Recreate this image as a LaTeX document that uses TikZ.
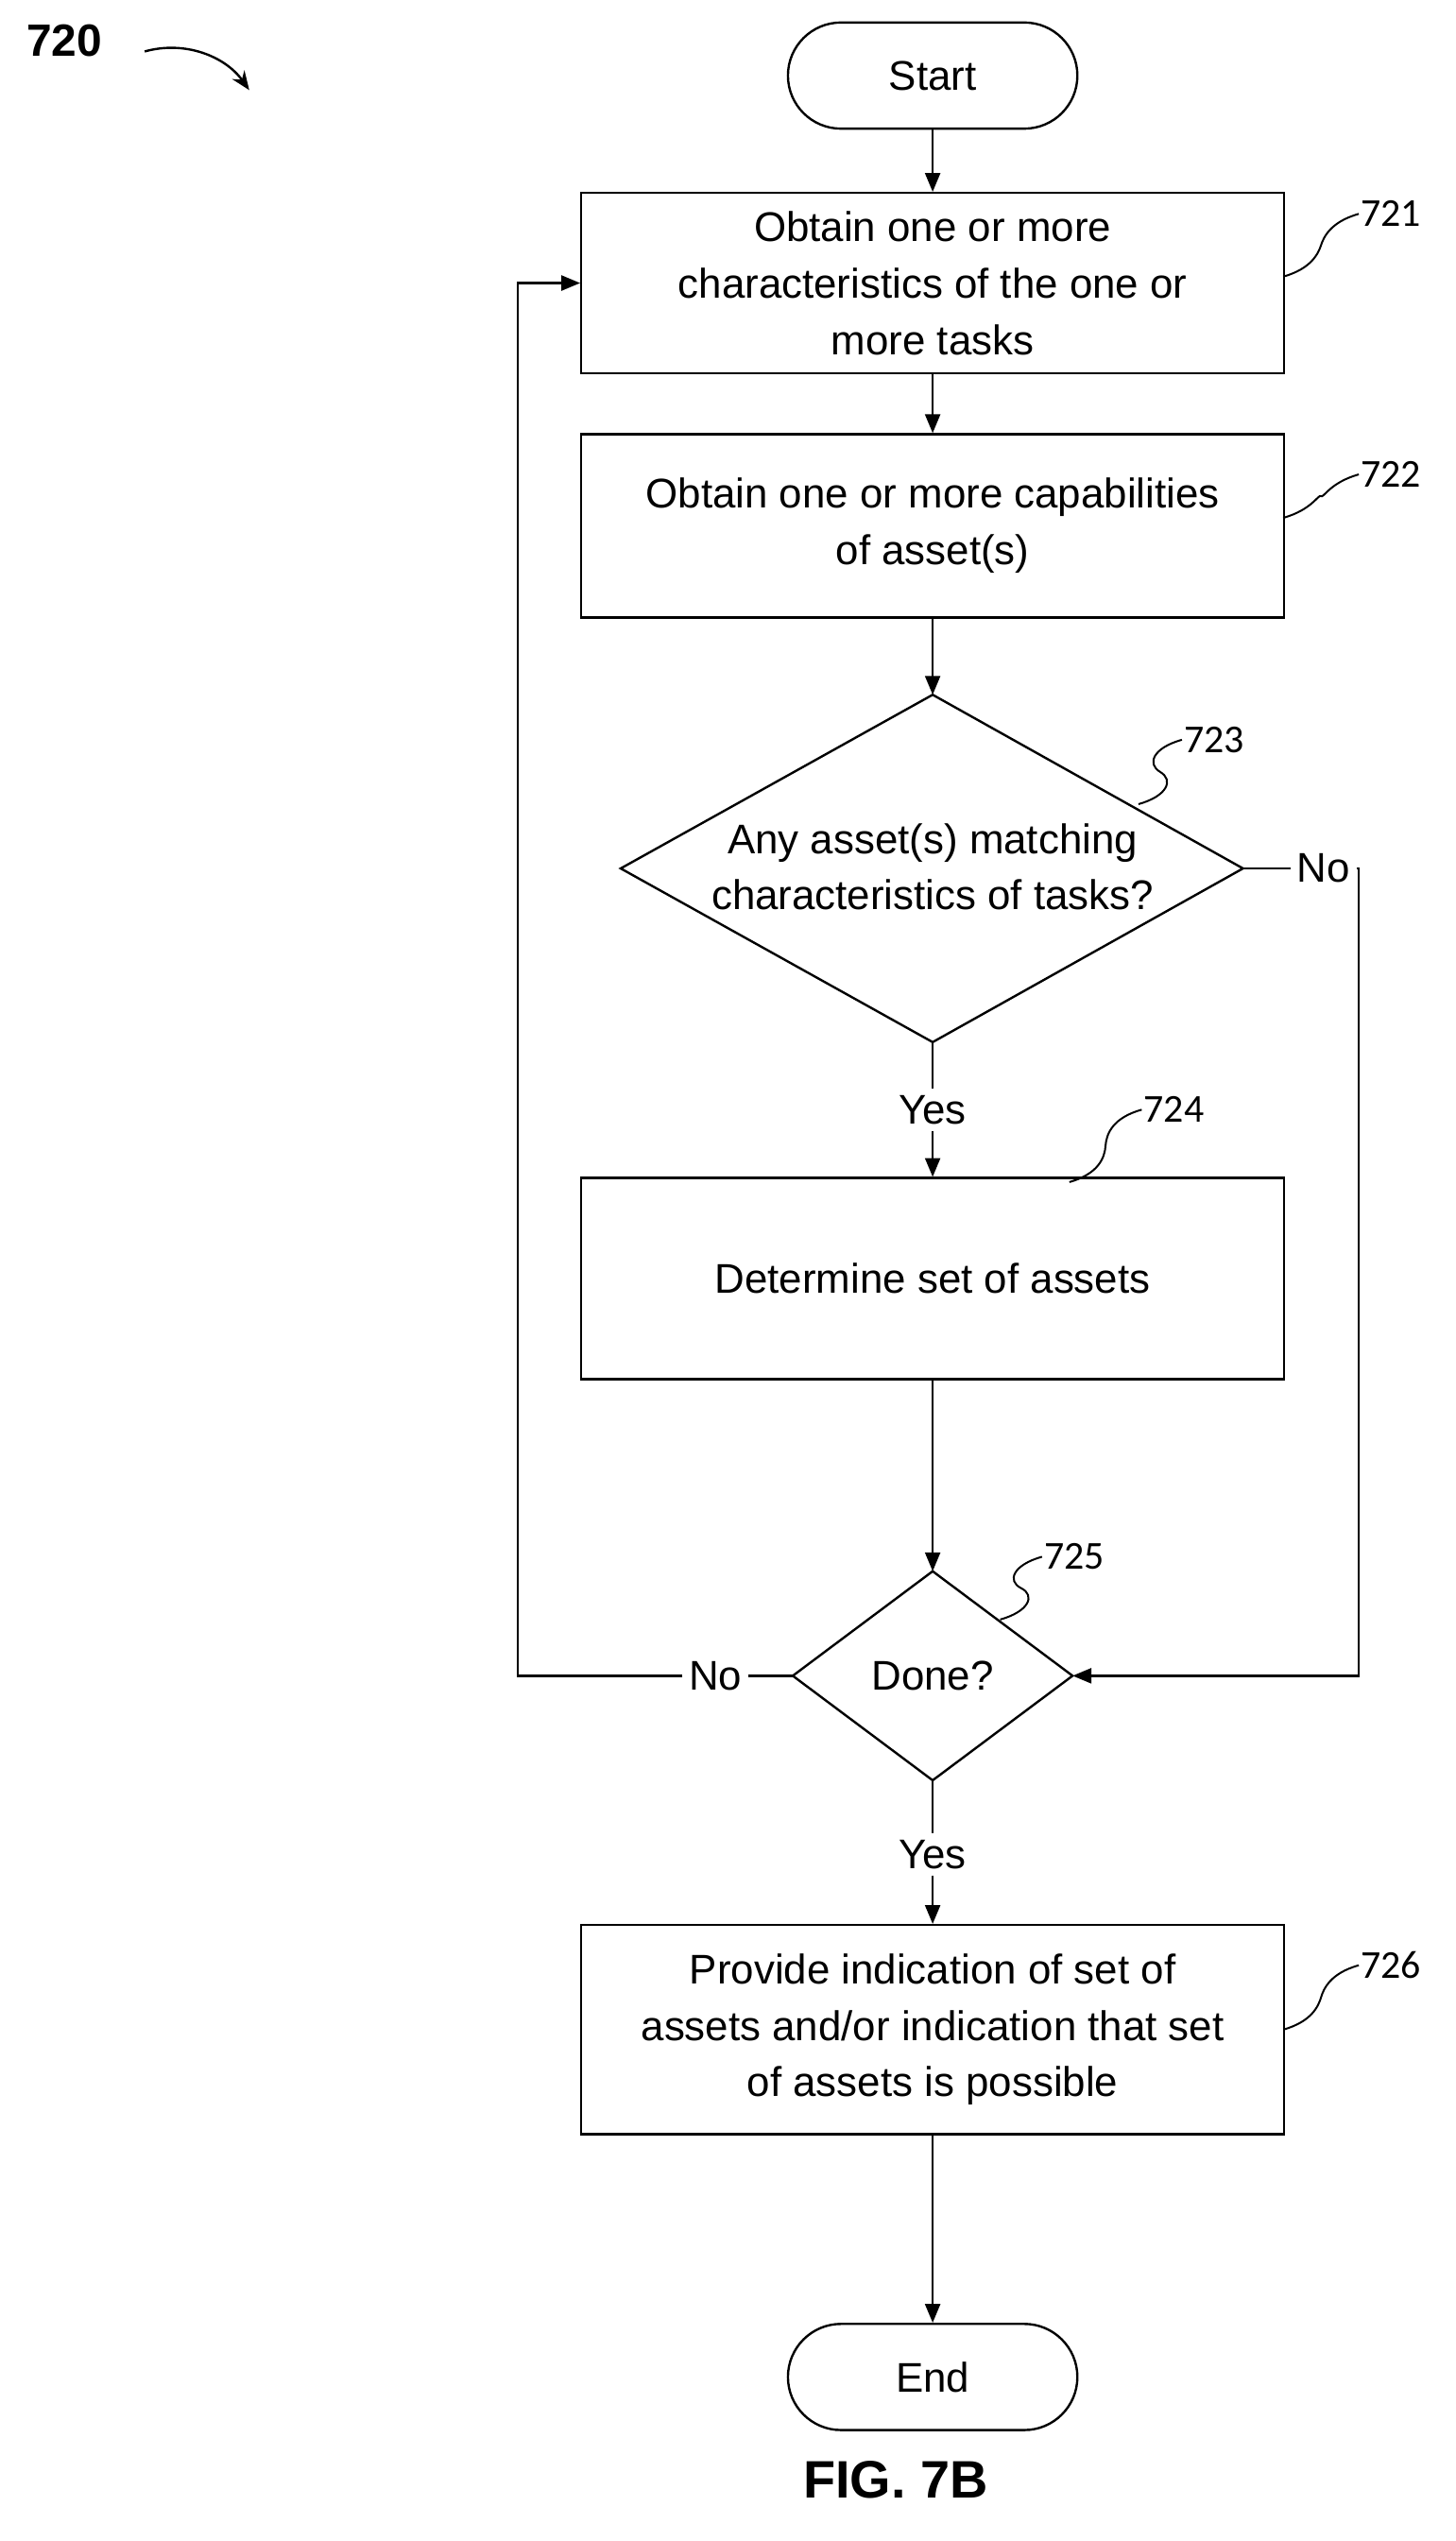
\documentclass[tikz,border=0pt]{standalone}
\usepackage{fontspec}
\setmainfont{Liberation Sans}
\newfontfamily\carlfont{Carlito}
\usetikzlibrary{arrows.meta,shapes.geometric,calc}
\begin{document}
\begin{tikzpicture}[x=0.03cm,y=-0.03cm,
  every node/.style={font=\fontsize{22}{30}\selectfont},
  box/.style={draw,line width=1.2pt,minimum width=437*0.03cm,align=center,inner sep=0},
  pill/.style={draw,line width=1.2pt,rounded corners=33*0.03cm,minimum width=180*0.03cm,minimum height=66*0.03cm},
  ar/.style={line width=1.2pt,-{Triangle[length=10pt,width=8pt]}},
  ln/.style={line width=1.2pt},
  lab/.style={font=\carlfont\fontsize{21}{25}\selectfont,anchor=west,inner sep=1pt},
  sq/.style={line width=1pt}]
\useasboundingbox (0,0) rectangle (905,1580);
\node[pill] (start) at (580,47) {Start};
\node[box,minimum height=112*0.03cm] (b1) at (580,176) {Obtain one or more\\characteristics of the one or\\more tasks};
\node[box,minimum height=114*0.03cm] (b2) at (580,327) {Obtain one or more capabilities\\of asset(s)};
\draw[line width=1.2pt] (580,432) coordinate (d1t) -- (773,540) coordinate (d1r) -- (580,648) coordinate (d1b) -- (386,540) coordinate (d1l) -- cycle;
\node[align=center] (d1) at (580,539) {Any asset(s) matching\\characteristics of tasks?};
\node (y1) at (580,690) {Yes};
\node[box,minimum height=125*0.03cm] (b3) at (580,795) {Determine set of assets};
\draw[line width=1.2pt] (580,977) coordinate (d2t) -- (667,1042) coordinate (d2r) -- (580,1107) coordinate (d2b) -- (493,1042) coordinate (d2l) -- cycle;
\node (d2) at (580,1042) {Done?};
\node (y2) at (580,1153) {Yes};
\node[box,minimum height=130*0.03cm] (b4) at (580,1262) {Provide indication of set of\\assets and/or indication that set\\of assets is possible};
\node[pill] (end) at (580,1478) {End};
\node[font=\bfseries\fontsize{28}{32}\selectfont] (fig) at (557,1542) {FIG. 7B};
\node[font=\bfseries\fontsize{24}{28}\selectfont] (n720) at (40,25) {720};
\coordinate (c720a) at (90,32); \coordinate (c720b) at (155,56);
\draw[line width=1.2pt,-{Stealth[length=10pt,width=8pt]}] (c720a) .. controls (115,25) and (140,35) .. (c720b);
\node (no1) at (823,540) {No};
\node (no2) at (445,1042) {No};
\coordinate (r1) at (845,540); \coordinate (r2) at (845,1042);
\coordinate (l1) at (322,1042); \coordinate (l2) at (322,176);
\draw[ar] (start) -- (b1);
\draw[ar] (b1) -- (b2);
\draw[ar] (b2) -- (d1t);
\draw[ln] (d1b) -- (y1);
\draw[ar] (y1) -- (b3);
\draw[ar] (b3) -- (d2t);
\draw[ln] (d2b) -- (y2);
\draw[ar] (y2) -- (b4);
\draw[ar] (b4) -- (end);
\draw[ln] (d1r) -- (no1);
\draw[ar] (no1.east) -- (r1) -- (r2) -- (d2r);
\draw[ln] (d2l) -- (no2);
\draw[ar] (no2.west) -- (l1) -- (l2) -- (b1.west);
\foreach \n/\x/\y/\tx/\ty in {721/798/172/845/133, 722/798/322/845/295, 723/708/500/735/460, 724/665/735/710/690, 725/622/1007/648/968, 726/798/1262/845/1222}{
  \coordinate (s\n) at (\x,\y);
  \node[lab] (t\n) at (\tx,\ty) {\n};
  \draw[sq] (s\n) .. controls ($(s\n)+(18,-5)$) and ($(s\n)+(22,-15)$) .. ($(s\n)!0.5!(t\n.west)$) .. controls ($(t\n.west)+(-22,15)$) and ($(t\n.west)+(-18,5)$) .. (t\n.west);
}
\end{tikzpicture}
\end{document}
